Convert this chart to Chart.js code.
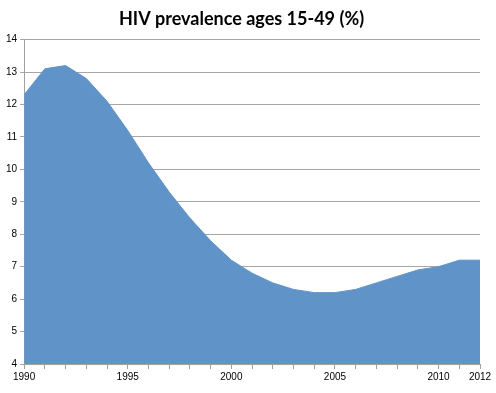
<!DOCTYPE html>
<html>
<head>
<meta charset="utf-8">
<script src="https://cdn.jsdelivr.net/npm/chart.js@4/dist/chart.umd.min.js"></script>
<style>
  html, body { margin: 0; padding: 0; background: #fff; }
  #wrap { width: 496px; height: 393px; }
</style>
</head>
<body>
<div id="wrap"><canvas id="hivChart"></canvas></div>
<script>
// HIV prevalence, ages 15-49 (%)
var years = [1990, 1991, 1992, 1993, 1994, 1995, 1996, 1997, 1998, 1999, 2000, 2001,
             2002, 2003, 2004, 2005, 2006, 2007, 2008, 2009, 2010, 2011, 2012];
var prevalence = [12.3, 13.1, 13.2, 12.8, 12.1, 11.2, 10.2, 9.3, 8.5, 7.8, 7.2, 6.8,
                  6.5, 6.3, 6.2, 6.2, 6.3, 6.5, 6.7, 6.9, 7.0, 7.2, 7.2];
var shownYears = [1990, 1995, 2000, 2005, 2010, 2012];

var ctx = document.getElementById("hivChart").getContext('2d');
var hivChart = new Chart(ctx, {
    type: 'line',
    data: {
        labels: years,
        datasets: [{
            label: "HIV prevalence ages 15-49 (%)",
            data: prevalence,
            fill: 'start',
            backgroundColor: 'rgb(96, 147, 199)',
            borderColor: 'rgb(96, 147, 199)',
            borderWidth: 1,
            pointRadius: 0,
            tension: 0
        }]
    },
    options: {
        responsive: true,
        maintainAspectRatio: false,
        animation: false,
        layout: { padding: { left: 3, right: 16, top: 2, bottom: 8 } },
        plugins: {
            legend: { display: false },
            tooltip: { enabled: false },
            title: {
                display: true,
                text: "HIV prevalence ages 15-49 (%)",
                color: '#000',
                font: { family: 'Lato, "Open Sans", sans-serif', size: 18, weight: 'bold' },
                padding: { top: 6, bottom: 10 }
            }
        },
        scales: {
            x: {
                offset: false,
                grid: { display: true, drawOnChartArea: false, drawTicks: true, tickLength: 5, color: '#a0a0a0' },
                border: { color: '#a0a0a0' },
                ticks: {
                    autoSkip: false,
                    maxRotation: 0,
                    color: '#000',
                    font: { family: '"Liberation Sans", sans-serif', size: 10 },
                    padding: 2,
                    callback: function (value, index) {
                        var y = years[index];
                        return shownYears.indexOf(y) >= 0 ? String(y) : '';
                    }
                }
            },
            y: {
                min: 4,
                max: 14,
                grid: { color: '#a6a6a6', tickLength: 4 },
                border: { color: '#a0a0a0' },
                ticks: {
                    stepSize: 1,
                    color: '#000',
                    font: { family: '"Liberation Sans", sans-serif', size: 10 },
                    padding: 3
                }
            }
        }
    }
});
</script>
</body>
</html>
